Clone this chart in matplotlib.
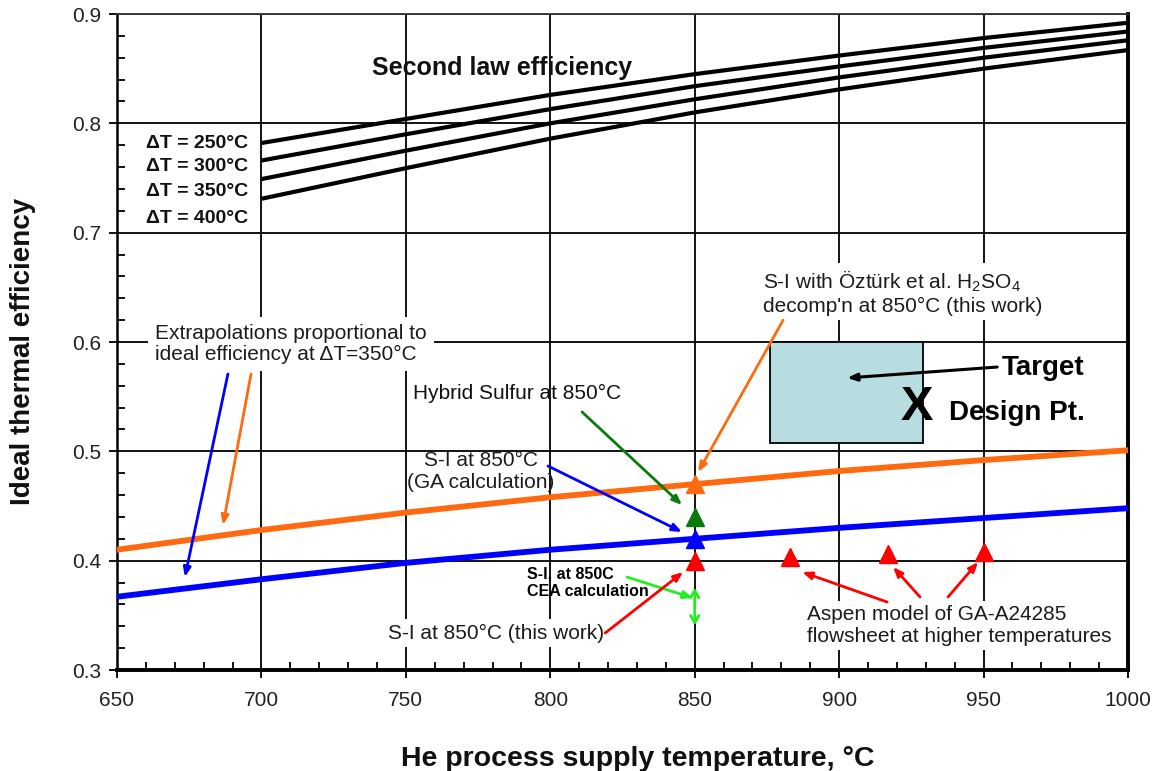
import matplotlib
matplotlib.use("Agg")
import matplotlib.pyplot as plt
from matplotlib.patches import Rectangle
from matplotlib.ticker import MultipleLocator, FixedLocator

plt.rcParams['font.family'] = ['Liberation Sans', 'DejaVu Sans']
plt.rcParams['mathtext.fontset'] = 'custom'
plt.rcParams['mathtext.rm'] = 'Liberation Sans'
plt.rcParams['mathtext.it'] = 'Liberation Sans:italic'
plt.rcParams['mathtext.bf'] = 'Liberation Sans:bold'

# Second-law efficiency curves (He supply temperature, degC)
sl_temps = [700, 750, 800, 850, 900, 950, 1000]
sl_dt250 = [0.782, 0.804, 0.826, 0.845, 0.862, 0.878, 0.892]
sl_dt300 = [0.766, 0.790, 0.813, 0.834, 0.852, 0.869, 0.884]
sl_dt350 = [0.749, 0.775, 0.800, 0.822, 0.842, 0.860, 0.876]
sl_dt400 = [0.731, 0.759, 0.786, 0.810, 0.831, 0.850, 0.867]
dt_labels = ["\u0394T = 250\u00b0C", "\u0394T = 300\u00b0C",
             "\u0394T = 350\u00b0C", "\u0394T = 400\u00b0C"]

# Extrapolations proportional to ideal efficiency at dT = 350 degC
ext_temps = [650, 700, 750, 800, 850, 900, 950, 1000]
ext_ozturk = [0.410, 0.428, 0.444, 0.458, 0.470, 0.482, 0.492, 0.501]
ext_ga = [0.367, 0.383, 0.398, 0.410, 0.420, 0.430, 0.439, 0.448]

# Process points at 850 degC
pt_ozturk = (850, 0.470)
pt_hybrid = (850, 0.440)
pt_ga = (850, 0.420)
pt_this = (850, 0.400)
# Aspen model points at higher temperatures
aspen_temps = [883, 917, 950]
aspen_eff = [0.403, 0.406, 0.408]
# CEA calculation range at 850 degC
cea_range = (0.375, 0.341)

# Target design region
target_t = (876, 929)
target_eff = (0.5075, 0.600)

x_ticks = [650, 700, 750, 800, 850, 900, 950, 1000]
y_ticks = [0.3, 0.4, 0.5, 0.6, 0.7, 0.8, 0.9]

W, H = 1156, 771
fig = plt.figure(figsize=(W / 100, H / 100), dpi=100)
ax = fig.add_axes([117 / W, 1 - 670 / H, (1128 - 117) / W, (670 - 14) / H])
ax.set_xlim(650, 1000)
ax.set_ylim(0.3, 0.9)

ax.xaxis.set_major_locator(FixedLocator(x_ticks))
ax.yaxis.set_major_locator(FixedLocator(y_ticks))
ax.xaxis.set_minor_locator(MultipleLocator(10))
ax.yaxis.set_minor_locator(MultipleLocator(0.02))
ax.set_xticklabels([str(t) for t in x_ticks])
ax.set_yticklabels([f"{t:.1f}" for t in y_ticks])
ax.tick_params(which='major', direction='out', length=6, width=1.3,
               labelsize=15, colors='black', labelcolor='#222222')
ax.tick_params(axis='x', which='major', pad=9)
ax.tick_params(axis='y', which='major', pad=5)
ax.tick_params(which='minor', direction='in', length=6, width=1.3)
ax.grid(True, which='major', color='black', lw=1.3)
ax.set_axisbelow(True)

for side, lw in (('left', 1.8), ('bottom', 2.8), ('right', 2.8), ('top', 1.3)):
    ax.spines[side].set_linewidth(lw)
ax.spines['top'].set_color('#333333')

# Second-law curves
for ys in (sl_dt250, sl_dt300, sl_dt350, sl_dt400):
    ax.plot(sl_temps, ys, color='black', lw=3.0, solid_capstyle='butt', zorder=3)
for lbl, ys in zip(dt_labels, (0.7817, 0.7603, 0.7375, 0.7131)):
    ax.text(695.4, ys, lbl, ha='right', va='center', fontsize=14,
            fontweight='bold', color='#111111')
ax.text(738.3, 0.8506, "Second law efficiency", ha='left', va='center',
        fontsize=18, fontweight='bold', color='#111111')

# Extrapolation lines
orange = '#ff6a10'
blue = '#0000ff'
red = '#ff0000'
dgreen = '#0a7a0a'
lgreen = '#22ee22'
ax.plot(ext_temps, ext_ozturk, color=orange, lw=4.2, zorder=3)
ax.plot(ext_temps, ext_ga, color=blue, lw=4.2, zorder=3)

# Target region
ax.add_patch(Rectangle((target_t[0], target_eff[0]), target_t[1] - target_t[0],
                       target_eff[1] - target_eff[0], facecolor='#b7dde1',
                       edgecolor='black', lw=1.3, zorder=2))
ax.text(927.0, 0.5405, "X", ha='center', va='center', fontsize=35,
        fontweight='bold', color='black', zorder=5)
ax.text(956.4, 0.5762, "Target", ha='left', va='center', fontsize=20,
        fontweight='bold', color='black', zorder=5)
ax.text(938.1, 0.535, "Design Pt.", ha='left', va='center', fontsize=20,
        fontweight='bold', color='black', zorder=5)


def arrow(tail, tip, color, lw=2.0, style='-|>,head_length=0.55,head_width=0.22'):
    ax.annotate('', xy=tip, xytext=tail,
                arrowprops=dict(arrowstyle=style, color=color, lw=lw,
                                shrinkA=0, shrinkB=0), zorder=6)


arrow((954.7, 0.5771), (902.8, 0.5671), 'black', lw=2.2)

# Markers
ms = 13
ax.plot(*pt_ozturk, marker='^', ms=ms, color=orange, zorder=7)
ax.plot(*pt_hybrid, marker='^', ms=ms, color=dgreen, zorder=7)
ax.plot(*pt_ga, marker='^', ms=ms, color=blue, zorder=7)
ax.plot(*pt_this, marker='^', ms=ms, color=red, zorder=7)
ax.plot(aspen_temps, aspen_eff, linestyle='none', marker='^', ms=ms,
        color=red, zorder=7)

txt = '#1c1c1c'
box = dict(facecolor='white', edgecolor='none', pad=3)

ax.text(663.2, 0.598, "Extrapolations proportional to\nideal efficiency at \u0394T=350\u00b0C",
        ha='left', va='center', fontsize=15, color=txt, linespacing=1.15,
        bbox=dict(facecolor='white', edgecolor='none', pad=5), zorder=4)
arrow((688.4, 0.5707), (673.5, 0.385), blue)
arrow((696.4, 0.5707), (686.7, 0.4326), orange)

ax.text(752.5, 0.5533, "Hybrid Sulfur at 850\u00b0C", ha='left', va='center',
        fontsize=15, color='#111111', zorder=4)
arrow((811.0, 0.536), (845.6, 0.4509), dgreen)

ax.text(776.0, 0.4815, "S-I at 850\u00b0C\n(GA calculation)", ha='center',
        va='center', multialignment='center', fontsize=15, color=txt,
        linespacing=1.2, zorder=4)
arrow((799.2, 0.4866), (845.6, 0.4262), blue)

ax.text(873.7, 0.6457,
        "S-I with \u00d6zt\u00fcrk et al. H$_2$SO$_4$\ndecomp'n at 850\u00b0C (this work)",
        ha='left', va='center', fontsize=15, color=txt, linespacing=1.2,
        bbox=box, zorder=4)
arrow((880.6, 0.620), (851.2, 0.481), orange)

ax.text(792.0, 0.380, "S-I, at 850C\nCEA calculation", ha='left', va='center',
        fontsize=11.5, fontweight='bold', color='black', linespacing=1.2,
        zorder=4)
arrow((826.6, 0.385), (849.4, 0.3658), lgreen)
ax.annotate('', xy=(850, cea_range[1]), xytext=(850, cea_range[0]),
            arrowprops=dict(arrowstyle='<->,head_length=0.5,head_width=0.3',
                            color=lgreen, lw=2.0, shrinkA=0, shrinkB=0), zorder=6)

ax.text(743.8, 0.3338, "S-I at 850\u00b0C (this work)", ha='left', va='center',
        fontsize=15, color=txt, bbox=box, zorder=4)
arrow((819.0, 0.3338), (846.0, 0.3896), red)

ax.text(888.9, 0.3407, "Aspen model of GA-A24285\nflowsheet at higher temperatures",
        ha='left', va='center', fontsize=15, color=txt, linespacing=1.15,
        bbox=box, zorder=4)
arrow((916.6, 0.3622), (887.2, 0.3896), red)
arrow((928.0, 0.3668), (918.7, 0.3942), red)
arrow((937.7, 0.3668), (948.1, 0.3988), red)

# Axis titles
fig.text(638 / W, 1 - 759 / H, "He process supply temperature, \u00b0C",
         ha='center', va='center', fontsize=20.5, fontweight='bold', color='#111111')
fig.text(23 / W, 1 - 351 / H, "Ideal thermal efficiency", rotation=90,
         ha='center', va='center', fontsize=20, fontweight='bold', color='#111111')

fig.savefig("out.png", dpi=100)
